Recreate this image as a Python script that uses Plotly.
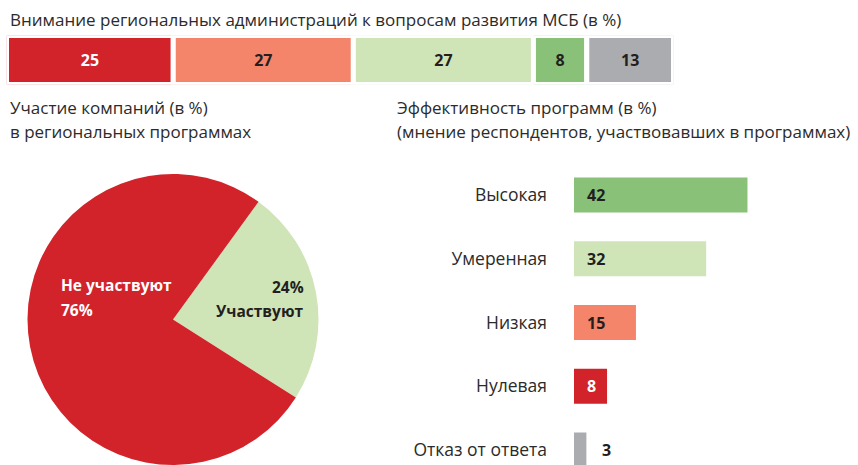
import plotly.graph_objects as go

# ---------------- data ----------------
top_title = "Внимание региональных администраций к вопросам развития МСБ (в %)"
top_values = [25, 27, 27, 8, 13]
top_colors = ["#D2232A", "#F4846A", "#CFE5B8", "#88C177", "#ABACAF"]
top_text_colors = ["#FFFFFF", "#231F20", "#231F20", "#231F20", "#231F20"]

pie_title = ["Участие компаний (в %)", "в региональных программах"]
pie_labels = ["Участвуют", "Не участвуют"]
pie_values = [24, 76]
pie_colors = ["#CFE5B8", "#D2232A"]

eff_title = ["Эффективность программ (в %)", "(мнение респондентов, участвовавших в программах)"]
eff_categories = ["Высокая", "Умеренная", "Низкая", "Нулевая", "Отказ от ответа"]
eff_values = [42, 32, 15, 8, 3]
eff_colors = ["#88C177", "#CFE5B8", "#F4846A", "#D2232A", "#ABACAF"]
eff_text_colors = ["#231F20", "#231F20", "#231F20", "#FFFFFF", "#231F20"]

W, H = 858, 465
FONT = "Open Sans"
DARK = "#2B2B2B"

def px(x):
    return x / W

def py(y):
    return 1 - y / H

fig = go.Figure()

# ---- top stacked bar (single trace with cumulative bases) ----
bases = []
acc = 0
for v in top_values:
    bases.append(acc)
    acc += v
fig.add_trace(go.Bar(
    x=top_values, y=[0] * len(top_values), base=bases, orientation="h",
    width=1,
    marker=dict(color=top_colors, line=dict(color="white", width=5)),
    text=[str(v) for v in top_values], textposition="inside",
    insidetextanchor="middle",
    textfont=dict(family=FONT, size=16, color=top_text_colors, weight="bold"),
    hoverinfo="skip", xaxis="x", yaxis="y", showlegend=False,
))

# ---- pie ----
fig.add_trace(go.Pie(
    labels=pie_labels, values=pie_values, sort=False, direction="clockwise",
    rotation=36, marker=dict(colors=pie_colors, line=dict(width=0)),
    textinfo="none", hoverinfo="skip", showlegend=False,
    domain=dict(x=[px(26), px(320)], y=[0, py(174)]),
))

# ---- right horizontal bars ----
fig.add_trace(go.Bar(
    x=eff_values, y=eff_categories, orientation="h", width=0.55,
    marker=dict(color=eff_colors, line=dict(width=0)),
    hoverinfo="skip", xaxis="x2", yaxis="y2", showlegend=False,
))

annotations = []
TS = 17
# titles
annotations.append(dict(text=top_title, x=px(8), y=py(20), xref="paper", yref="paper",
                        xanchor="left", yanchor="middle", showarrow=False,
                        font=dict(family=FONT, size=TS, color=DARK)))
for i, t in enumerate(pie_title):
    annotations.append(dict(text=t, x=px(8), y=py(107 + 24 * i), xref="paper", yref="paper",
                            xanchor="left", yanchor="middle", showarrow=False,
                            font=dict(family=FONT, size=TS, color=DARK)))
for i, t in enumerate(eff_title):
    annotations.append(dict(text=t, x=px(395), y=py(107 + 24 * i), xref="paper", yref="paper",
                            xanchor="left", yanchor="middle", showarrow=False,
                            font=dict(family=FONT, size=TS, color=DARK)))

# pie labels (each line placed separately)
for txt, yy in [(pie_labels[1], 285), (f"{pie_values[1]}%", 310)]:
    annotations.append(dict(text=f"<b>{txt}</b>", x=px(59), y=py(yy),
                            xref="paper", yref="paper", xanchor="left", yanchor="middle",
                            showarrow=False, font=dict(family=FONT, size=15.5, color="#FFFFFF")))
for txt, yy in [(f"{pie_values[0]}%", 287), (pie_labels[0], 311)]:
    annotations.append(dict(text=f"<b>{txt}</b>", x=px(306), y=py(yy),
                            xref="paper", yref="paper", xanchor="right", yanchor="middle",
                            showarrow=False, font=dict(family=FONT, size=15.5, color="#231F20")))

# bar value labels
for cat, v, c in zip(eff_categories, eff_values, eff_text_colors):
    if v >= 5:
        annotations.append(dict(text=f"<b>{v}</b>", x=0, y=cat, xref="x2", yref="y2",
                                xanchor="left", yanchor="middle", xshift=11, showarrow=False,
                                font=dict(family=FONT, size=16, color=c)))
    else:
        annotations.append(dict(text=f"<b>{v}</b>", x=v, y=cat, xref="x2", yref="y2",
                                xanchor="left", yanchor="middle", xshift=14, showarrow=False,
                                font=dict(family=FONT, size=16, color=c)))

fig.update_layout(
    width=W, height=H, margin=dict(l=0, r=0, t=0, b=0),
    paper_bgcolor="white", plot_bgcolor="rgba(0,0,0,0)",
    font=dict(family=FONT, color=DARK),
    barmode="overlay",
    xaxis=dict(domain=[px(6.5), px(673.5)], range=[0, 100], visible=False, fixedrange=True),
    yaxis=dict(domain=[py(84.5), py(35.5)], range=[-0.5, 0.5], visible=False, fixedrange=True),
    xaxis2=dict(domain=[px(574), 1], range=[0, 284 / 4.13], visible=False, anchor="y2"),
    yaxis2=dict(domain=[0, py(163)], anchor="x2", type="category",
                categoryorder="array", categoryarray=eff_categories,
                range=[4.235, -0.502], showgrid=False, zeroline=False, showline=False,
                ticks="", ticklabelstandoff=26, automargin=False,
                tickfont=dict(family=FONT, size=17.5, color=DARK)),
    annotations=annotations,
)

fig.write_html("out.html", config={"displayModeBar": False, "staticPlot": True},
               post_script="document.body.style.margin='0px';document.body.style.overflow='hidden';")
